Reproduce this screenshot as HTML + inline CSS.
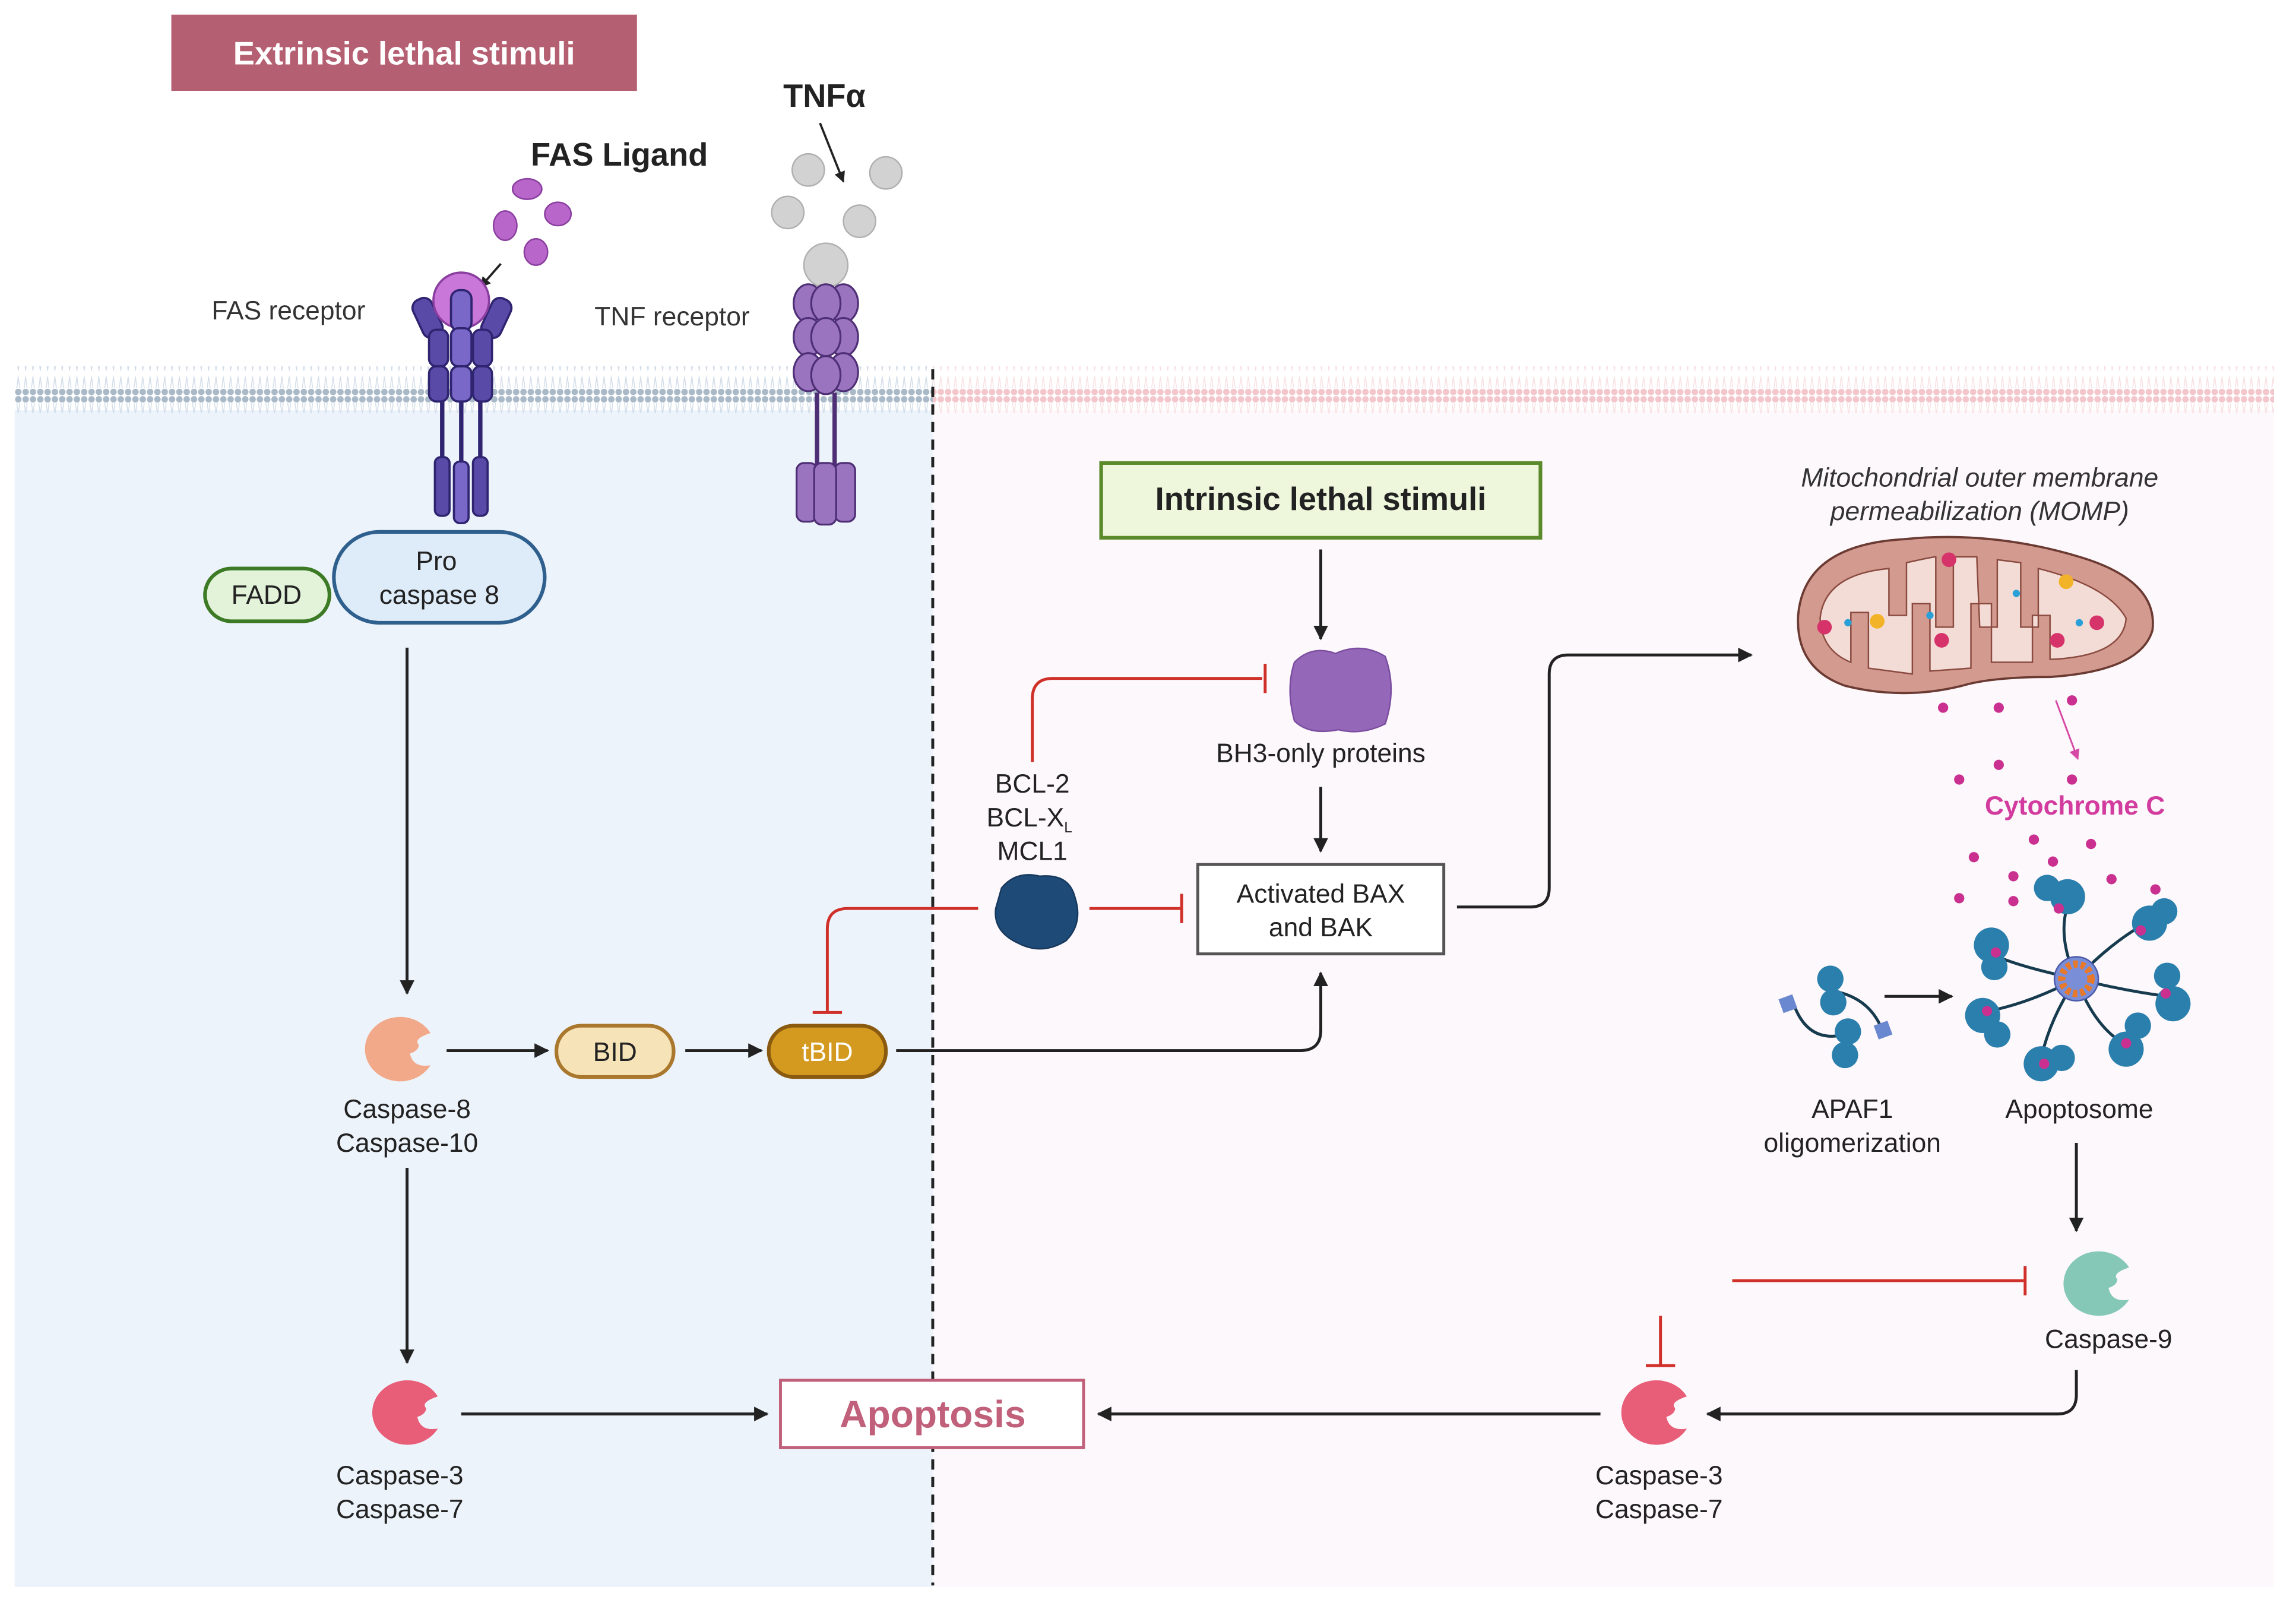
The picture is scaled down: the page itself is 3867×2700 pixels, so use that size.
<!DOCTYPE html>
<html><head><meta charset="utf-8"><style>
html,body{margin:0;padding:0;background:#fff}
svg{display:block}
text{font-family:"Liberation Sans",Arial,sans-serif}
</style></head><body>
<svg width="3867" height="2700" viewBox="0 0 1568 1094" preserveAspectRatio="none" xmlns="http://www.w3.org/2000/svg">
<defs>
<marker id="ah" viewBox="0 0 10 10" refX="9" refY="5" markerWidth="5" markerHeight="5" orient="auto"><path d="M0,0L10,5L0,10z" fill="#222"/></marker>
<marker id="ahp" viewBox="0 0 10 10" refX="9" refY="5" markerWidth="6" markerHeight="6" orient="auto"><path d="M0,0L10,5L0,10z" fill="#d64aa6"/></marker>
<pattern id="mb" width="5" height="30" patternUnits="userSpaceOnUse"><circle cx="2.5" cy="2.5" r="2.2" fill="#a9b9c8"/><circle cx="2.5" cy="27.5" r="2.2" fill="#a9b9c8"/><path d="M1.5,5 L2.5,13 M3.5,5 L2.5,13 M1.5,25 L2.5,17 M3.5,25 L2.5,17" stroke="#d3dde8" stroke-width="0.6"/></pattern>
<pattern id="mp" width="5" height="30" patternUnits="userSpaceOnUse"><circle cx="2.5" cy="2.5" r="2.2" fill="#f3c6cc"/><circle cx="2.5" cy="27.5" r="2.2" fill="#f3c6cc"/><path d="M1.5,5 L2.5,13 M3.5,5 L2.5,13 M1.5,25 L2.5,17 M3.5,25 L2.5,17" stroke="#f8e0e3" stroke-width="0.6"/></pattern>
<g id="casp"><path d="M22,-10 A24,22 0 1 0 22,12 Q10,14 8,4 Q14,2 14,-2 Q10,-6 22,-10z"/></g>
</defs>
<rect x="10" y="280" width="627" height="803" fill="#edf3fb"/>
<rect x="637" y="280" width="916" height="803" fill="#fdf8fb"/>
<rect x="10" y="250" width="627" height="32" fill="url(#mb)"/>
<rect x="637" y="250" width="916" height="32" fill="url(#mp)"/>
<line x1="637" y1="252" x2="637" y2="1082" stroke="#222" stroke-width="2" stroke-dasharray="7,5"/>

<rect x="117" y="10" width="318" height="52" fill="#b56072"/>
<text x="276" y="44" font-size="22" font-weight="bold" fill="#fff" text-anchor="middle">Extrinsic lethal stimuli</text>
<text x="563" y="73" font-size="22" font-weight="bold" fill="#222" text-anchor="middle">TNFα</text>
<text x="423" y="113" font-size="22" font-weight="bold" fill="#222" text-anchor="middle">FAS Ligand</text>
<text x="197" y="218" font-size="18" fill="#333" text-anchor="middle">FAS receptor</text>
<text x="459" y="222" font-size="18" fill="#333" text-anchor="middle">TNF receptor</text>

<g fill="#b866c9" stroke="#8a3ea0" stroke-width="1">
<ellipse cx="360" cy="129" rx="10" ry="7"/><ellipse cx="381" cy="146" rx="9" ry="8"/><ellipse cx="345" cy="154" rx="8" ry="10"/><ellipse cx="366" cy="172" rx="8" ry="9"/></g>
<line x1="342" y1="180" x2="328" y2="196" stroke="#222" stroke-width="1.5" marker-end="url(#ah)"/>
<g stroke="#2e2470" stroke-width="1.5">
<rect x="285" y="203" width="14" height="28" rx="6" fill="#5a4aa8" transform="rotate(-25 292 217)"/>
<rect x="332" y="203" width="14" height="28" rx="6" fill="#5a4aa8" transform="rotate(25 339 217)"/>
<circle cx="315" cy="205" r="19" fill="#c977d8" stroke="#8a3ea0"/>
<rect x="308" y="198" width="14" height="28" rx="6" fill="#7a68c8"/>
<rect x="293" y="225" width="13" height="25" rx="5" fill="#5a4aa8"/><rect x="308" y="224" width="14" height="26" rx="5" fill="#7a68c8"/><rect x="323" y="225" width="13" height="25" rx="5" fill="#5a4aa8"/>
<rect x="293" y="250" width="13" height="24" rx="5" fill="#5a4aa8"/><rect x="308" y="250" width="14" height="24" rx="5" fill="#7a68c8"/><rect x="323" y="250" width="13" height="24" rx="5" fill="#5a4aa8"/>
<line x1="302" y1="274" x2="302" y2="315" stroke-width="3"/><line x1="315" y1="274" x2="315" y2="315" stroke-width="3"/><line x1="328" y1="274" x2="328" y2="315" stroke-width="3"/>
<rect x="297" y="312" width="10" height="40" rx="4" fill="#5a4aa8"/><rect x="310" y="315" width="10" height="42" rx="4" fill="#7a68c8"/><rect x="323" y="312" width="10" height="40" rx="4" fill="#5a4aa8"/>
</g>
<g fill="#d2d2d2" stroke="#b0b0b0"><circle cx="552" cy="116" r="11"/><circle cx="605" cy="118" r="11"/><circle cx="538" cy="145" r="11"/><circle cx="587" cy="151" r="11"/><circle cx="564" cy="181" r="15"/></g>
<line x1="560" y1="84" x2="576" y2="124" stroke="#222" stroke-width="1.5" marker-end="url(#ah)"/>
<g fill="#9a74bf" stroke="#4e2e74" stroke-width="1.3">
<ellipse cx="552" cy="207" rx="10" ry="13"/><ellipse cx="576" cy="207" rx="10" ry="13"/><ellipse cx="564" cy="207" rx="10" ry="13"/>
<ellipse cx="552" cy="230" rx="10" ry="13"/><ellipse cx="576" cy="230" rx="10" ry="13"/><ellipse cx="564" cy="230" rx="10" ry="13"/>
<ellipse cx="552" cy="254" rx="10" ry="13"/><ellipse cx="576" cy="254" rx="10" ry="13"/><ellipse cx="564" cy="256" rx="10" ry="13"/>
<line x1="558" y1="268" x2="558" y2="318" stroke-width="3"/><line x1="570" y1="268" x2="570" y2="318" stroke-width="3"/>
<rect x="544" y="316" width="14" height="40" rx="5"/><rect x="570" y="316" width="14" height="40" rx="5"/><rect x="556" y="316" width="15" height="42" rx="5"/>
</g>

<rect x="140" y="388" width="85" height="36" rx="18" fill="#e3f3da" stroke="#3d7a25" stroke-width="2.5"/>
<text x="182" y="412" font-size="18" fill="#222" text-anchor="middle">FADD</text>
<rect x="228" y="363" width="144" height="62" rx="31" fill="#deebf8" stroke="#2e5f8d" stroke-width="2.5"/>
<text x="298" y="389" font-size="18" fill="#222" text-anchor="middle">Pro</text>
<text x="300" y="412" font-size="18" fill="#222" text-anchor="middle">caspase 8</text>

<g stroke="#222" stroke-width="2" fill="none" marker-end="url(#ah)">
<line x1="278" y1="442" x2="278" y2="678"/>
<line x1="305" y1="717" x2="374" y2="717"/>
<line x1="468" y1="717" x2="520" y2="717"/>
<path d="M612,717 L888,717 Q902,717 902,703 L902,664"/>
<line x1="278" y1="797" x2="278" y2="930"/>
<line x1="315" y1="965" x2="524" y2="965"/>
<line x1="1093" y1="965" x2="750" y2="965"/>
<path d="M1418,935 L1418,952 Q1418,965 1405,965 L1166,965"/>
<line x1="1418" y1="780" x2="1418" y2="840"/>
<line x1="902" y1="375" x2="902" y2="436"/>
<line x1="902" y1="537" x2="902" y2="581"/>
<path d="M995,619 L1045,619 Q1058,619 1058,606 L1058,460 Q1058,447 1071,447 L1196,447"/>
<line x1="1287" y1="680" x2="1333" y2="680"/>
</g>
<use href="#casp" x="272" y="715" fill="#f2a98a"/>
<text x="278" y="763" font-size="18" fill="#222" text-anchor="middle">Caspase-8</text>
<text x="278" y="786" font-size="18" fill="#222" text-anchor="middle">Caspase-10</text>
<rect x="380" y="700" width="80" height="35" rx="17" fill="#f7e3b8" stroke="#a9782d" stroke-width="2.5"/>
<text x="420" y="724" font-size="18" fill="#222" text-anchor="middle">BID</text>
<rect x="525" y="700" width="80" height="35" rx="17" fill="#d49a20" stroke="#8a5a10" stroke-width="2.5"/>
<text x="565" y="724" font-size="18" fill="#fff" text-anchor="middle">tBID</text>
<use href="#casp" x="277" y="963" fill="#e85d78"/>
<text x="273" y="1013" font-size="18" fill="#222" text-anchor="middle">Caspase-3</text>
<text x="273" y="1036" font-size="18" fill="#222" text-anchor="middle">Caspase-7</text>
<rect x="533" y="942" width="207" height="46" fill="#fff" stroke="#c0607a" stroke-width="2"/>
<text x="637" y="974" font-size="26" font-weight="bold" fill="#c0607a" text-anchor="middle">Apoptosis</text>
<use href="#casp" x="1130" y="963" fill="#e85d78"/>
<text x="1133" y="1013" font-size="18" fill="#222" text-anchor="middle">Caspase-3</text>
<text x="1133" y="1036" font-size="18" fill="#222" text-anchor="middle">Caspase-7</text>
<use href="#casp" x="1432" y="875" fill="#86c8b8"/>
<text x="1440" y="920" font-size="18" fill="#222" text-anchor="middle">Caspase-9</text>

<g stroke="#d0302a" stroke-width="2" fill="none">
<path d="M705,520 L705,477 Q705,463 719,463 L862,463"/><line x1="864" y1="453" x2="864" y2="473"/>
<line x1="744" y1="620" x2="806" y2="620"/><line x1="807" y1="610" x2="807" y2="630"/>
<path d="M668,620 L579,620 Q565,620 565,634 L565,690"/><line x1="555" y1="691" x2="575" y2="691"/>
<line x1="1183" y1="874" x2="1382" y2="874"/><line x1="1383" y1="864" x2="1383" y2="884"/>
<line x1="1134" y1="898" x2="1134" y2="932"/><line x1="1124" y1="932" x2="1144" y2="932"/>
</g>

<rect x="752" y="316" width="300" height="51" fill="#eef7dc" stroke="#5a8a2a" stroke-width="2.5"/>
<text x="902" y="348" font-size="22" font-weight="bold" fill="#222" text-anchor="middle">Intrinsic lethal stimuli</text>
<path d="M884,452 Q896,440 912,446 Q930,438 946,448 Q954,470 946,494 Q930,502 914,498 Q894,502 884,492 Q878,470 884,452z" fill="#9467b8" stroke="#7a4da0"/>
<text x="902" y="520" font-size="18" fill="#222" text-anchor="middle">BH3-only proteins</text>
<rect x="818" y="590" width="168" height="61" fill="#fff" stroke="#555" stroke-width="2"/>
<text x="902" y="616" font-size="18" fill="#222" text-anchor="middle">Activated BAX</text>
<text x="902" y="639" font-size="18" fill="#222" text-anchor="middle">and BAK</text>
<text x="705" y="541" font-size="18" fill="#222" text-anchor="middle">BCL-2</text>
<text x="703" y="564" font-size="18" fill="#222" text-anchor="middle">BCL-X<tspan font-size="10" dy="4">L</tspan></text>
<text x="705" y="587" font-size="18" fill="#222" text-anchor="middle">MCL1</text>
<path d="M684,606 Q694,594 710,598 Q730,596 734,612 Q740,630 728,642 Q712,652 696,644 Q678,636 680,620z" fill="#1e4a78" stroke="#16385d"/>

<text x="1352" y="332" font-size="18" font-style="italic" fill="#333" text-anchor="middle">Mitochondrial outer membrane</text>
<text x="1352" y="355" font-size="18" font-style="italic" fill="#333" text-anchor="middle">permeabilization (MOMP)</text>
<path d="M1228,420 Q1232,372 1300,368 Q1360,362 1420,380 Q1474,396 1470,430 Q1462,458 1400,462 Q1360,462 1340,468 Q1300,478 1260,468 Q1226,456 1228,420z" fill="#d39a8f" stroke="#6b3a32" stroke-width="1.5"/>
<path d="M1243,422 Q1246,392 1290,388 L1290,420 L1302,420 L1302,384 Q1320,380 1322,380 L1322,428 L1334,428 L1334,380 L1350,380 L1352,428 L1364,428 L1364,382 L1380,384 L1380,428 L1392,428 L1392,388 Q1440,400 1452,422 Q1450,448 1400,450 L1400,420 L1388,420 L1388,452 L1360,452 L1360,412 L1346,412 L1346,456 L1318,458 L1318,412 L1306,412 L1306,460 L1276,456 L1276,418 L1264,418 L1264,452 Q1244,444 1243,422z" fill="#f3dcd6" stroke="#8a4a40" stroke-width="1"/>
<g fill="#d6336a"><circle cx="1246" cy="428" r="5"/><circle cx="1326" cy="437" r="5"/><circle cx="1331" cy="382" r="5"/><circle cx="1405" cy="437" r="5"/><circle cx="1432" cy="425" r="5"/></g>
<g fill="#f2b328"><circle cx="1282" cy="424" r="5"/><circle cx="1411" cy="397" r="5"/></g>
<g fill="#2aa0d8"><circle cx="1262" cy="425" r="2.5"/><circle cx="1318" cy="420" r="2.5"/><circle cx="1377" cy="405" r="2.5"/><circle cx="1420" cy="425" r="2.5"/></g>
<g fill="#c9308f"><circle cx="1327" cy="483" r="3.5"/><circle cx="1365" cy="483" r="3.5"/><circle cx="1415" cy="478" r="3.5"/><circle cx="1365" cy="522" r="3.5"/><circle cx="1338" cy="532" r="3.5"/><circle cx="1415" cy="532" r="3.5"/>
<circle cx="1389" cy="573" r="3.5"/><circle cx="1428" cy="576" r="3.5"/><circle cx="1348" cy="585" r="3.5"/><circle cx="1402" cy="588" r="3.5"/><circle cx="1375" cy="598" r="3.5"/><circle cx="1442" cy="600" r="3.5"/><circle cx="1472" cy="607" r="3.5"/><circle cx="1338" cy="613" r="3.5"/><circle cx="1375" cy="615" r="3.5"/></g>
<line x1="1404" y1="478" x2="1419" y2="518" stroke="#d64aa6" stroke-width="1.2" marker-end="url(#ahp)"/>
<text x="1417" y="556" font-size="18" font-weight="bold" fill="#d23c9e" text-anchor="middle">Cytochrome C</text>
<g stroke="#163a4e" stroke-width="2" fill="none">
<path d="M1418,668 Q1405,640 1412,618"/><path d="M1418,668 Q1440,645 1462,632"/><path d="M1418,668 Q1380,660 1362,652"/><path d="M1418,668 Q1450,676 1480,680"/><path d="M1418,668 Q1385,685 1358,690"/><path d="M1418,668 Q1400,695 1394,722"/><path d="M1418,668 Q1430,700 1450,712"/>
</g>
<g fill="#2b7fad"><circle cx="1412" cy="612" r="12"/><circle cx="1468" cy="630" r="12"/><circle cx="1360" cy="645" r="12"/><circle cx="1484" cy="685" r="12"/><circle cx="1354" cy="693" r="12"/><circle cx="1394" cy="726" r="12"/><circle cx="1452" cy="716" r="12"/>
<circle cx="1398" cy="606" r="9"/><circle cx="1478" cy="622" r="9"/><circle cx="1362" cy="660" r="9"/><circle cx="1480" cy="666" r="9"/><circle cx="1364" cy="706" r="9"/><circle cx="1408" cy="722" r="9"/><circle cx="1460" cy="700" r="9"/></g>
<g fill="#c9308f"><circle cx="1406" cy="620" r="3.5"/><circle cx="1462" cy="635" r="3.5"/><circle cx="1363" cy="650" r="3.5"/><circle cx="1479" cy="678" r="3.5"/><circle cx="1357" cy="690" r="3.5"/><circle cx="1396" cy="726" r="3.5"/><circle cx="1452" cy="712" r="3.5"/></g>
<circle cx="1418" cy="668" r="15" fill="#7a8ed8" stroke="#4a5aa8"/>
<circle cx="1418" cy="668" r="10" fill="none" stroke="#e8782a" stroke-width="5" stroke-dasharray="3,2"/>
<g stroke="#163a4e" stroke-width="2" fill="none"><path d="M1226,688 Q1236,712 1260,706"/><path d="M1250,676 Q1276,680 1285,702"/></g>
<g fill="#2b7fad"><circle cx="1250" cy="668" r="9"/><circle cx="1252" cy="684" r="9"/><circle cx="1262" cy="704" r="9"/><circle cx="1260" cy="720" r="9"/></g>
<rect x="1216" y="680" width="10" height="10" fill="#6a88d0" transform="rotate(-20 1221 685)"/>
<rect x="1281" y="698" width="10" height="10" fill="#6a88d0" transform="rotate(-20 1286 703)"/>
<text x="1265" y="763" font-size="18" fill="#222" text-anchor="middle">APAF1</text>
<text x="1265" y="786" font-size="18" fill="#222" text-anchor="middle">oligomerization</text>
<text x="1420" y="763" font-size="18" fill="#222" text-anchor="middle">Apoptosome</text>
</svg>
</body></html>
